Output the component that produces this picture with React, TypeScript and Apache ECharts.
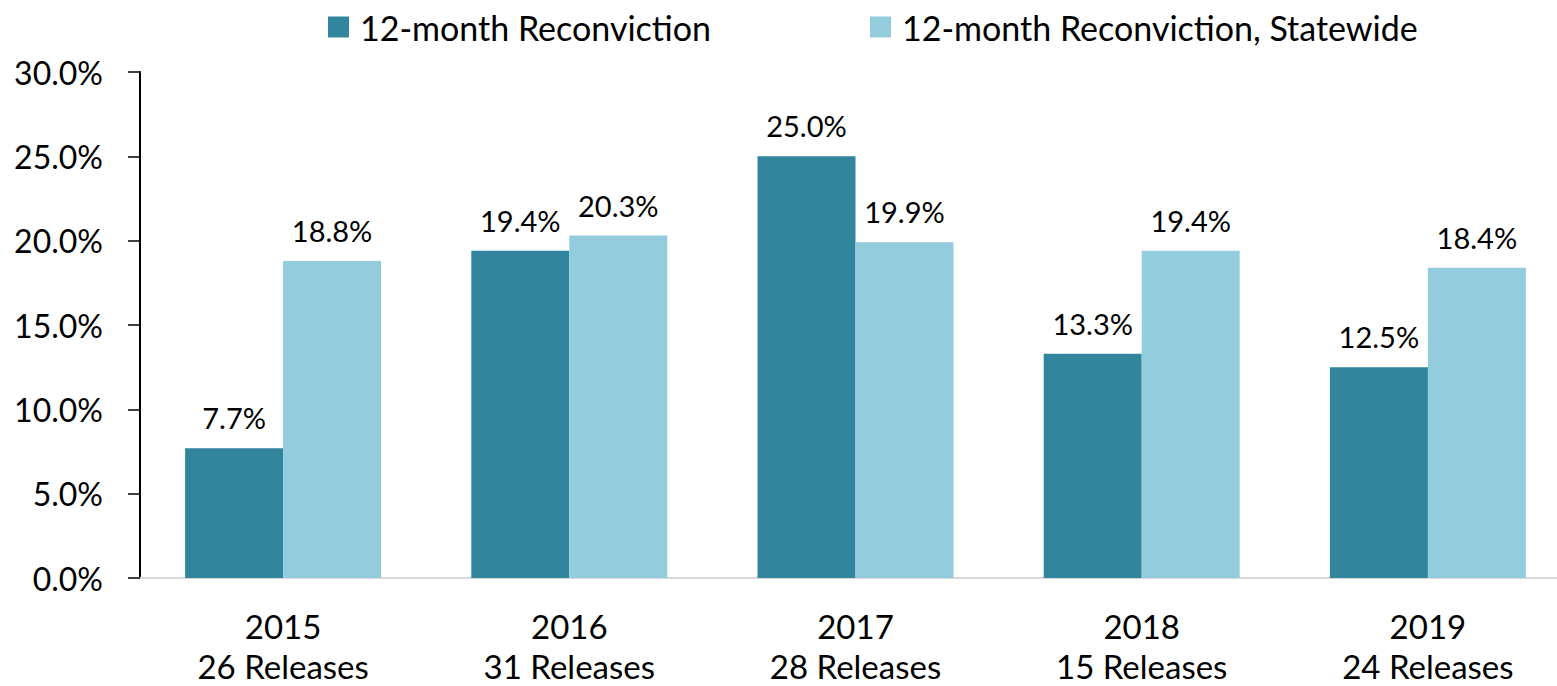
import React, { useEffect, useRef } from "react";
import * as echarts from "echarts";

const categories = ["2015\n26 Releases", "2016\n31 Releases", "2017\n28 Releases", "2018\n15 Releases", "2019\n24 Releases"];
const seriesNames = ["12-month Reconviction", "12-month Reconviction, Statewide"];
const reconviction = [7.7, 19.4, 25.0, 13.3, 12.5];
const statewide = [18.8, 20.3, 19.9, 19.4, 18.4];

const FONT = "Lato";

export default function App() {
  const ref = useRef<HTMLDivElement>(null);
  useEffect(() => {
    if (!ref.current) return;
    const chart = echarts.init(ref.current, null, { renderer: "svg" });
    const labelCfg = {
      show: true,
      position: "top" as const,
      distance: 16,
      color: "#000",
      fontFamily: FONT,
      fontSize: 29,
      formatter: (p: any) => Number(p.value).toFixed(1) + "%",
    };
    const legendBase = {
      top: 10,
      padding: 0,
      itemWidth: 21,
      itemHeight: 21,
      icon: "rect",
      textStyle: { fontSize: 34, color: "#000", fontFamily: FONT, padding: [0, 0, 0, 6] },
    };
    chart.setOption({
      animation: false,
      backgroundColor: "#fff",
      textStyle: { fontFamily: FONT },
      legend: [
        { ...legendBase, data: [seriesNames[0]], left: 328 },
        { ...legendBase, data: [seriesNames[1]], left: 870 },
      ],
      grid: { left: 140, right: 0, top: 72, bottom: 108, containLabel: false, outerBoundsMode: "none" },
      xAxis: {
        type: "category",
        data: categories,
        axisLine: { show: true, lineStyle: { color: "#d9d9d9", width: 2 } },
        axisTick: { show: false },
        axisLabel: {
          color: "#000",
          fontFamily: FONT,
          fontSize: 33,
          lineHeight: 40,
          margin: 28,
          interval: 0,
        },
      },
      yAxis: {
        type: "value",
        min: 0,
        max: 30,
        interval: 5,
        axisLine: { show: true, lineStyle: { color: "#000", width: 2 } },
        axisTick: { show: true, length: 12, lineStyle: { color: "#000", width: 1.5 } },
        splitLine: { show: false },
        axisLabel: {
          color: "#000",
          fontFamily: FONT,
          fontSize: 32,
          margin: 37,
          formatter: (v: number) => v.toFixed(1) + "%",
        },
      },
      series: [
        {
          name: seriesNames[0],
          type: "bar",
          data: reconviction,
          barWidth: 98,
          barGap: "0%",
          itemStyle: { color: "#31859C" },
          label: labelCfg,
        },
        {
          name: seriesNames[1],
          type: "bar",
          data: statewide,
          barWidth: 98,
          barGap: "0%",
          itemStyle: { color: "#93CDDD" },
          label: labelCfg,
        },
      ],
    });
    return () => chart.dispose();
  }, []);
  return (
    <div style={{ position: "fixed", left: 0, top: 0, width: 1557, height: 686, overflow: "hidden" }}>
      <div ref={ref} style={{ width: 1571, height: 686 }} />
    </div>
  );
}
